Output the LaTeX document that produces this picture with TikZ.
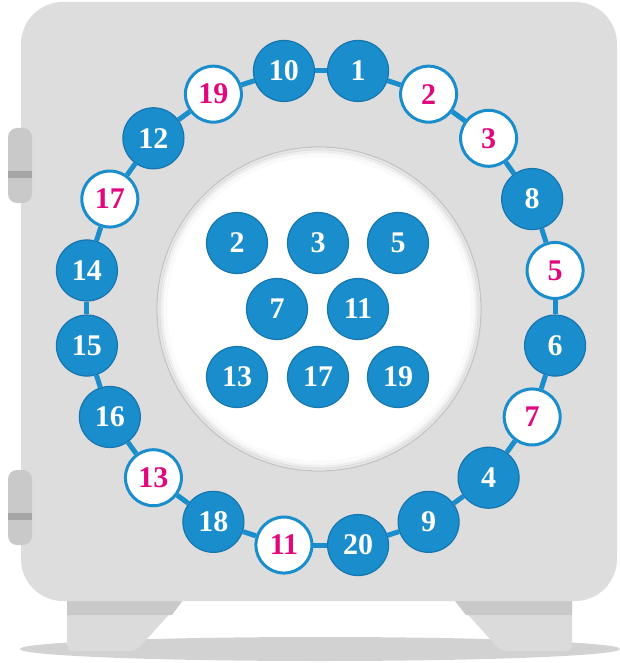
\documentclass[tikz,border=0pt]{standalone}
\usepackage{fontspec}
\setmainfont{Liberation Serif}
\definecolor{bodygray}{HTML}{DDDDDD}
\definecolor{hingegray}{HTML}{C9C9C9}
\definecolor{hingeband}{HTML}{A6A6A6}
\definecolor{footgray}{HTML}{DBDBDB}
\definecolor{footband}{HTML}{C9C9C9}
\definecolor{shadowgray}{HTML}{D2D2D2}
\definecolor{ballblue}{HTML}{1A8DCC}
\definecolor{ballrim}{HTML}{1676B0}
\definecolor{primepink}{HTML}{E2077E}
\definecolor{rimgray}{HTML}{C4C4C4}
\begin{document}
\begin{tikzpicture}[x=1pt,y=-1pt,
  numfont/.style={font=\fontsize{30}{30}\selectfont\bfseries},
  bn/.style={circle, inner sep=0pt, minimum size=61pt, fill=ballblue, draw=ballrim, line width=1.2pt, text=white, numfont},
  wn/.style={circle, inner sep=0pt, minimum size=56pt, fill=white, draw=ballblue, line width=3pt, text=primepink, numfont},
  link/.style={draw=ballblue, line width=5pt},
]
\useasboundingbox (0,0) rectangle (620,663);
% floor shadow
\fill[shadowgray] (320,649) ellipse [x radius=300pt, y radius=12pt];
% feet
\fill[footgray] (67,596) -- (186,596) [rounded corners=6pt] -- (136,651) -- (67,651) [sharp corners] -- cycle;
\fill[footband] (67,596) -- (186,596) -- (172,615) -- (67,615) -- cycle;
\fill[footgray] (451,596) -- (572,596) [rounded corners=6pt] -- (572,651) -- (501,651) [sharp corners] -- cycle;
\fill[footband] (451,596) -- (572,596) -- (572,615) -- (466,615) -- cycle;
% body
\fill[bodygray, rounded corners=42pt] (21,2) rectangle (617,601);
% hinges
\fill[hingegray, rounded corners=9pt] (8,128) rectangle (32,203);
\fill[hingeband] (8,171) rectangle (32,178);
\fill[hingegray, rounded corners=9pt] (8,470) rectangle (32,545);
\fill[hingeband] (8,513) rectangle (32,520);
% central window
\fill[white] (319,309) circle [radius=162pt];
\foreach \d/\o in {2/0.10,4/0.06,6/0.035,9/0.02}
  \draw[black, opacity=\o, line width=2.5pt] (319,309) circle [radius={(162-\d)*1pt}];
\draw[rimgray, line width=1.2pt] (319,309) circle [radius=162pt];
% primes inside
\node[bn] (c2) at (237,243) {2};
\node[bn] (c3) at (318,243) {3};
\node[bn] (c5) at (398,243) {5};
\node[bn] (c7) at (277,309) {7};
\node[bn] (c11) at (358,309) {11};
\node[bn] (c13) at (237,377) {13};
\node[bn] (c17) at (318,377) {17};
\node[bn] (c19) at (398,377) {19};
% ring of numbers
\foreach \lab/\sty [count=\i from 0] in {1/bn,2/wn,3/wn,8/bn,5/wn,6/bn,7/wn,4/bn,9/bn,20/bn,11/wn,18/bn,13/wn,16/bn,15/bn,14/bn,17/wn,12/bn,19/wn,10/bn} {
  \pgfmathsetmacro\ang{9+18*\i}
  \node[\sty] (r\i) at ({321+237*sin(\ang)},{308-240*cos(\ang)}) {\lab};
}
\foreach \i in {0,...,19} {
  \pgfmathtruncatemacro\j{mod(\i+1,20)}
  \draw[link] (r\i) -- (r\j);
}
\end{tikzpicture}
\end{document}
